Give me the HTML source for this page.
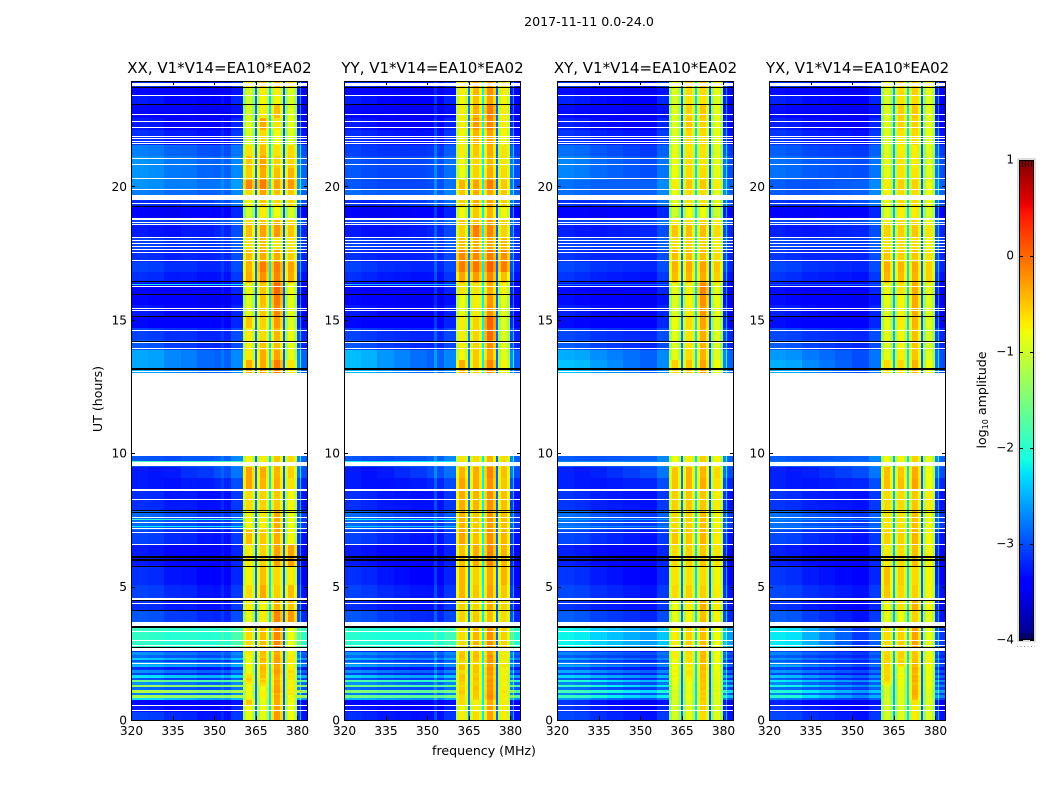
<!DOCTYPE html>
<html>
<head>
<meta charset="utf-8">
<title>2017-11-11 dynamic spectra</title>
<style>
html,body{margin:0;padding:0;background:#fff;}
svg{display:block;font-family:"DejaVu Sans","Liberation Sans",sans-serif;fill:#000;}
</style>
</head>
<body>
<svg id="chart" width="1050" height="800" viewBox="0 0 1050 800" xmlns="http://www.w3.org/2000/svg"></svg>
<script>
// ---- Data (log10 amplitude, hours, MHz) ----
const panelTitles = ["XX, V1*V14=EA10*EA02","YY, V1*V14=EA10*EA02","XY, V1*V14=EA10*EA02","YX, V1*V14=EA10*EA02"];
const xTickLabels = [320,335,350,365,380];
const yTickLabels = [0,5,10,15,20];
const colorbarTickLabels = [1,0,-1,-2,-3,-4];

// time segment edges, hours (bottom up); the 9.88-13.0 gap is a flag below
const timeEdges = [0,.3,.53,.75,.84,.94,1.03,1.12,1.22,1.31,1.41,1.5,1.59,1.69,1.78,1.87,1.97,2.06,2.16,2.25,2.34,2.44,2.53,2.72,3.65,4.1,4.54,5.06,5.77,6.56,7.12,7.87,8.62,9.07,9.48,9.88];
const timeEdgesUpper = [13,13.49,13.87,14.24,14.69,15.14,15.55,15.93,16.38,16.79,17.17,17.62,18.07,18.55,18.81,19.23,19.53,19.87,20.24,20.69,21.14,21.55,22.11,22.56,23.05,23.42,23.69,23.95];

// each row: [background at 320-332, background above 350, band1, band2, band3, band4]
const levelsXX = [
[-3.1,-3.3,-.85,-.85,-.25,-.8],[-3.3,-3.4,-.75,-.8,-.3,-.8],[-3.4,-3.5,-.5,-.85,-.35,-.8],
[-2.3,-2.6,-.7,-.8,-.35,-.75],[-1.3,-1.4,-.8,-.75,-.3,-.8],[-2.8,-2.9,-.85,-.7,-.4,-.65],[-1.2,-1.4,-.8,-.75,-.25,-.7],[-2.9,-3,-.75,-.8,-.3,-.7],[-1.3,-1.5,-.85,-.7,-.3,-.75],[-2.7,-2.9,-.7,-.6,-.35,-.7],[-1.6,-1.8,-.6,-.5,-.3,-.75],[-3,-3.1,-.55,-.6,-.4,-.7],[-2.3,-2.5,-.65,-.45,-.35,-.65],[-3.1,-3.2,-.7,-.5,-.3,-.7],[-2.7,-2.9,-.85,-.45,-.25,-.6],[-3.2,-3.3,-.8,-.4,-.3,-.7],[-2.5,-2.7,-.75,-.45,-.35,-.75],[-2.6,-2.8,-.8,-.5,-.25,-.7],[-3,-3.1,-.85,-.45,-.3,-.65],[-2.4,-2.6,-.8,-.4,-.25,-.7],[-2.9,-3,-.75,-.5,-.3,-.7],[-2.7,-2.9,-.7,-.45,-.35,-.75],[-3.2,-3.3,-.65,-.4,-.25,-.7],
[-2,-2,-.6,-.45,-.15,-.8],
[-3,-3.2,-.85,-.7,-.15,-.25],[-3.2,-3.3,-.7,-.75,-.4,-.5],[-3.1,-3.3,-.6,-.35,-.55,-.45],[-3.2,-3.4,-.75,-.45,-.6,-.7],[-3.3,-3.4,-.7,-.55,-.3,-.3],[-3.1,-3.3,-.45,-.5,-.35,-.75],[-2.9,-3.1,-.75,-.7,-.35,-.8],[-3.2,-3.3,-.6,-.55,-.5,-.75],[-3.3,-3.2,-.3,-.4,-.35,-.65],[-3.3,-3,-.3,-.35,-.4,-.55],[-3,-2.9,-.75,-.7,-.5,-.6],
[-2.6,-2.9,-.35,-.35,-.1,-.65],[-2.6,-2.9,-.7,-.35,-.3,-.85],[-3,-3.2,-.75,-.5,-.45,-.85],[-3.1,-3.2,-.7,-.6,-.4,-.8],[-3.4,-3.4,-.5,-.55,-.25,-.9],[-3.3,-3.4,-.85,-.5,-.15,-.85],[-3.4,-3.5,-.9,-.45,-.1,-.85],[-3.4,-3.4,-.8,-.5,0,-.8],[-3.2,-3.3,-.35,-.2,-.15,-.35],[-3.1,-3.2,-.4,-.1,-.1,-.3],[-3.2,-3.2,-.45,-.35,-.35,-.55],[-3.1,-3.1,-.65,-.45,-.65,-.65],[-3.3,-3.2,-.45,-.3,-.25,-.5],[-3.1,-3,-.6,-.5,-.4,-.6],[-3.5,-3.4,-1,-.7,-.8,-.95],[-3.2,-3,-.75,-.5,-.6,-.6],[-2.8,-2.9,-.6,-.3,-.45,-.5],[-2.7,-2.8,-.15,-.1,-.3,-.25],[-2.7,-2.9,-.55,-.35,-.45,-.4],[-2.7,-2.9,-.5,-.3,-.55,-.55],[-2.8,-3,-.65,-.45,-.65,-.6],[-3.2,-3.3,-.95,-.6,-.8,-.9],[-3.3,-3.4,-.9,-.35,-.65,-.85],[-3.4,-3.5,-.95,-.7,-.45,-.9],[-3.3,-3.4,-1,-.75,-.75,-.95],[-3.4,-3.5,-.95,-.7,-.7,-.9],[-3.2,-3.3,-.7,-.5,-.4,-.55]];

const levelsYY = [
[-3.2,-3.3,-.7,-.6,-.3,-.7],[-3.3,-3.4,-.75,-.7,-.3,-.7],[-3.4,-3.5,-.6,-.7,-.35,-.7],
[-2.5,-2.7,-.6,-.55,-.2,-.7],[-1.6,-1.7,-.6,-.5,-.15,-.7],[-2.8,-2.9,-.55,-.5,-.2,-.7],[-1.5,-1.7,-.5,-.5,-.2,-.65],[-2.9,-3,-.55,-.45,-.25,-.7],[-1.6,-1.8,-.6,-.5,-.2,-.7],[-2.7,-2.9,-.55,-.55,-.25,-.75],[-1.8,-2,-.5,-.5,-.2,-.7],[-3,-3.1,-.5,-.45,-.25,-.7],[-2.4,-2.6,-.45,-.5,-.3,-.7],[-3.1,-3.2,-.55,-.55,-.2,-.75],[-2.7,-2.9,-.6,-.45,-.25,-.7],[-3.2,-3.3,-.45,-.5,-.2,-.7],[-2.6,-2.8,-.45,-.45,-.3,-.65],[-2.7,-2.9,-.6,-.6,-.25,-.7],[-3,-3.1,-.55,-.5,-.2,-.7],[-2.5,-2.7,-.5,-.45,-.25,-.7],[-2.9,-3,-.45,-.4,-.2,-.65],[-2.7,-2.9,-.5,-.45,-.3,-.7],[-3.2,-3.3,-.55,-.45,-.2,-.6],
[-2.05,-2.05,-.6,-.4,-.2,-.55],
[-3,-3.2,-.55,-.5,-.45,-.6],[-3.2,-3.3,-.55,-.55,-.35,-.55],[-3.1,-3.3,-.4,-.5,-.3,-.5],[-3.2,-3.4,-.4,-.55,-.35,-.4],[-3.3,-3.4,-.45,-.35,-.15,-.4],[-3.1,-3.3,-.3,-.45,-.2,-.4],[-2.9,-3.1,-.4,-.5,-.25,-.45],[-3.2,-3.3,-.35,-.4,-.2,-.45],[-3.3,-3.2,-.3,-.35,-.2,-.5],[-3.3,-3,-.4,-.35,-.15,-.45],[-3,-2.9,-.65,-.6,-.4,-.6],
[-2.5,-2.9,-.35,-.5,-.15,-.75],[-2.5,-2.9,-.75,-.5,-.3,-.85],[-3,-3.2,-.7,-.55,-.2,-.85],[-3.1,-3.2,-.7,-.55,0,-.9],[-3.4,-3.4,-.7,-.55,.05,-.9],[-3.3,-3.4,-.8,-.7,-.2,-.85],[-3.4,-3.5,-.8,-.7,-.25,-.85],[-3.4,-3.4,-.65,-.65,-.35,-.75],[-3.2,-3.3,-.3,-.25,-.15,-.45],[-3.1,-3.2,-.1,-.05,.05,-.1],[-3.2,-3.2,-.15,-.15,-.1,-.2],[-3.1,-3.1,-.45,-.35,-.3,-.4],[-3.3,-3.2,-.55,-.1,-.15,-.55],[-3.1,-3,-.5,-.45,-.3,-.55],[-3.5,-3.4,-.75,-.5,-.4,-.75],[-3.2,-3,-.55,-.35,-.3,-.55],[-2.9,-2.9,-.5,-.35,-.3,-.5],[-3,-3,-.4,-.3,-.1,-.5],[-3,-3,-.8,-.55,-.35,-.6],[-3,-3,-.75,-.55,-.4,-.65],[-3.1,-3.1,-.7,-.5,-.35,-.65],[-3.2,-3.3,-.75,-.4,-.3,-.75],[-3.3,-3.4,-.7,-.25,-.15,-.7],[-3.4,-3.5,-.7,-.35,-.1,-.7],[-3.3,-3.4,-.75,-.45,-.3,-.75],[-3.4,-3.5,-.7,-.4,-.2,-.7],[-3.2,-3.3,-.6,-.3,-.25,-.6]];

const levelsXY = [
[-3.1,-3.3,-.95,-.85,-.6,-.9],[-3.2,-3.4,-.95,-.85,-.55,-.9],[-3.2,-3.5,-.95,-.9,-.55,-.9],
[-2.7,-3,-.9,-.8,-.5,-.85],[-2,-2.4,-.95,-.8,-.55,-.9],[-2.8,-3,-.9,-.85,-.5,-.85],[-1.9,-2.3,-.95,-.85,-.55,-.9],[-2.9,-3.1,-.9,-.8,-.45,-.85],[-2,-2.4,-.9,-.85,-.5,-.9],[-2.8,-3,-.85,-.8,-.5,-.85],[-2.1,-2.5,-.85,-.75,-.45,-.85],[-3,-3.2,-.8,-.75,-.5,-.85],[-2.4,-2.7,-.75,-.7,-.45,-.85],[-3.1,-3.2,-.8,-.65,-.45,-.8],[-2.6,-2.9,-.75,-.65,-.5,-.85],[-3.1,-3.3,-.8,-.7,-.4,-.8],[-2.6,-2.9,-.75,-.65,-.45,-.8],[-2.8,-3,-.75,-.7,-.45,-.85],[-3,-3.2,-.8,-.6,-.4,-.8],[-2.6,-2.9,-.75,-.6,-.45,-.8],[-3,-3.1,-.7,-.65,-.4,-.8],[-2.8,-3,-.7,-.6,-.45,-.8],[-3.1,-3.3,-.7,-.6,-.4,-.75],
[-2.25,-2.6,-.7,-.55,-.45,-.8],
[-3,-3.2,-.85,-.75,-.45,-.75],[-3.2,-3.3,-.8,-.7,-.35,-.7],[-3.1,-3.3,-.6,-.55,-.55,-.7],[-3.2,-3.4,-.65,-.65,-.6,-.75],[-3.3,-3.4,-.6,-.55,-.5,-.65],[-3.1,-3.3,-.5,-.5,-.4,-.7],[-2.9,-3.1,-.6,-.55,-.45,-.75],[-3.2,-3.3,-.55,-.5,-.5,-.7],[-3.3,-3.2,-.5,-.4,-.35,-.65],[-3.3,-3,-.5,-.4,-.4,-.6],[-3,-2.9,-.8,-.7,-.55,-.75],
[-2.5,-2.9,-.55,-.5,-.3,-.8],[-2.6,-2.9,-.85,-.6,-.4,-.9],[-3,-3.2,-.9,-.65,-.4,-.95],[-3.1,-3.2,-.85,-.65,-.35,-.9],[-3.4,-3.4,-.8,-.6,-.3,-.9],[-3.3,-3.4,-.9,-.7,-.25,-.85],[-3.4,-3.5,-.9,-.75,-.2,-.85],[-3.4,-3.4,-.85,-.75,-.15,-.85],[-3.2,-3.3,-.45,-.4,-.35,-.55],[-3.1,-3.2,-.4,-.35,-.3,-.5],[-3.2,-3.2,-.45,-.45,-.45,-.6],[-3.1,-3.1,-.6,-.55,-.55,-.7],[-3.3,-3.2,-.5,-.45,-.45,-.6],[-3.1,-3,-.7,-.6,-.55,-.7],[-3.5,-3.4,-1,-.8,-.8,-1],[-3.2,-3,-.85,-.65,-.65,-.85],[-2.9,-2.9,-.8,-.6,-.6,-.85],[-2.9,-2.9,-.7,-.5,-.5,-.7],[-2.8,-3,-.8,-.6,-.6,-.85],[-2.8,-3,-.8,-.6,-.65,-.85],[-2.9,-3.1,-.85,-.65,-.65,-.9],[-3.2,-3.3,-.9,-.6,-.6,-.85],[-3.3,-3.4,-.9,-.5,-.55,-.85],[-3.4,-3.5,-.9,-.55,-.5,-.85],[-3.3,-3.4,-.95,-.65,-.65,-.9],[-3.4,-3.5,-.9,-.6,-.6,-.85],[-3.2,-3.3,-.8,-.5,-.5,-.7]];

const levelsYX = [
[-3.1,-3.3,-.95,-.9,-.7,-.9],[-3.2,-3.4,-.95,-.9,-.7,-.9],[-3.3,-3.5,-.95,-.9,-.65,-.9],
[-2.8,-3.1,-.95,-.9,-.45,-.9],[-2.1,-2.7,-1,-.9,-.4,-.95],[-2.8,-3.1,-.95,-.85,-.35,-.9],[-2.1,-2.6,-1,-.9,-.35,-.9],[-2.9,-3.1,-.95,-.85,-.4,-.85],[-2.2,-2.7,-.9,-.85,-.4,-.85],[-2.8,-3.1,-.7,-.8,-.45,-.8],[-2.3,-2.7,-.6,-.8,-.35,-.85],[-3,-3.2,-.55,-.85,-.4,-.8],[-2.5,-2.9,-.55,-.75,-.35,-.8],[-3.1,-3.3,-.6,-.8,-.45,-.85],[-2.7,-3,-.55,-.85,-.4,-.8],[-3.1,-3.3,-.6,-.8,-.35,-.8],[-2.6,-3,-.55,-.65,-.45,-.75],[-2.8,-3.1,-.55,-.55,-.4,-.75],[-3,-3.2,-.6,-.55,-.45,-.7],[-2.7,-3,-.55,-.6,-.45,-.75],[-3,-3.2,-.55,-.55,-.5,-.75],[-2.8,-3.1,-.6,-.55,-.5,-.8],[-3.1,-3.3,-.6,-.6,-.5,-.8],
[-2.3,-3.1,-.6,-.55,-.3,-.85],
[-3,-3.3,-.85,-.8,-.55,-.85],[-3.2,-3.4,-.8,-.65,-.35,-.75],[-3.1,-3.3,-.5,-.6,-.55,-.75],[-3.2,-3.4,-.45,-.55,-.6,-.75],[-3.3,-3.4,-.7,-.6,-.45,-.75],[-3.1,-3.3,-.55,-.55,-.4,-.75],[-2.9,-3.1,-.65,-.65,-.45,-.8],[-3.2,-3.3,-.6,-.6,-.5,-.7],[-3.3,-3.2,-.45,-.45,-.3,-.8],[-3.3,-3,-.45,-.5,-.35,-.8],[-3,-2.9,-.8,-.75,-.55,-.85],
[-2.6,-3,-.6,-.6,-.4,-.8],[-2.7,-3,-.85,-.7,-.5,-.9],[-3,-3.2,-.9,-.75,-.5,-.95],[-3.1,-3.2,-.85,-.75,-.45,-.95],[-3.4,-3.4,-.85,-.7,-.4,-.9],[-3.3,-3.4,-.9,-.75,-.35,-.9],[-3.4,-3.5,-.85,-.75,-.35,-.9],[-3.4,-3.4,-.8,-.65,-.35,-.85],[-3.2,-3.3,-.4,-.45,-.4,-.55],[-3.1,-3.2,-.35,-.4,-.35,-.55],[-3.2,-3.2,-.5,-.55,-.5,-.65],[-3.1,-3.1,-.65,-.6,-.6,-.75],[-3.3,-3.2,-.55,-.55,-.5,-.65],[-3.1,-3,-.7,-.6,-.6,-.75],[-3.5,-3.4,-.9,-.7,-.7,-.95],[-3.2,-3,-.8,-.6,-.6,-.8],[-3,-2.9,-.75,-.6,-.6,-.8],[-3,-2.9,-.7,-.55,-.55,-.8],[-2.9,-3,-.85,-.65,-.65,-.9],[-2.9,-3,-.85,-.65,-.7,-.9],[-3,-3.1,-.9,-.7,-.7,-.9],[-3.2,-3.3,-.9,-.65,-.6,-.85],[-3.3,-3.4,-.9,-.55,-.55,-.85],[-3.4,-3.5,-.9,-.55,-.5,-.85],[-3.3,-3.4,-.95,-.65,-.6,-.9],[-3.4,-3.5,-.9,-.6,-.55,-.85],[-3.2,-3.3,-.8,-.5,-.5,-.7]];

const panelLevels = [levelsXX, levelsYY, levelsXY, levelsYX];

// frequency structure, MHz
const backgroundEdges = [320,326,332,338,344,350,352.5,353.5,356,360.4];
const backgroundOffsetXX = [.05,.02,-.03,0,-.03,0,.12,0,.2];
const backgroundOffsetYY = [.05,0,-.03,-.03,-.03,0,.3,0,.18];
const backgroundOffsetXY = [.08,.04,0,0,0,0,0,0,.2];
const backgroundOffsetYX = [.08,.04,0,0,0,0,0,0,.2];
const panelBackgroundOffsets = [backgroundOffsetXX, backgroundOffsetYY, backgroundOffsetXY, backgroundOffsetYX];
// share of the right-hand background level in each background column
const backgroundRightShare = [0,0,.25,.5,.75,1,1,1,1];

const bandEdges = [[360.4,364.8],[365.7,369.8],[370.5,375],[375.6,380]];
const bandEdgeWidth = 1;
const bandEdgeDrop = [-.42,0,-.36];

const gapEdges = [[364.8,365.7],[369.8,370.5],[375,375.6]];
const gapLevelXX = [-2.85,-2.3,-2.95];
const gapLevelYY = [-2.75,-2.2,-2.9];
const gapLevelXY = [-2.8,-2.3,-2.9];
const gapLevelYX = [-2.5,-2.3,-2.9];
const panelGapLevels = [gapLevelXX, gapLevelYY, gapLevelXY, gapLevelYX];

const postBandEdges = [380,381,381.5,383.8];
const postBandOffset = [.2,.8,0];

// flagged rows: [centre hour, duration hours]
const whiteFlags = [[23.81,.13],[23.41,.04],[22.69,.04],[22.43,.04],[22.21,.04],[21.87,.04],[21.78,.04],[21.68,.04],[21.61,.04],[21.05,.04],[20.82,.04],[20.3,.04],[19.88,.04],[19.59,.17],[19.36,.04],[18.78,.075],[18.65,.04],[18.57,.04],[18.07,.04],[17.97,.04],[17.86,.04],[17.75,.04],[17.63,.04],[17.52,.04],[17.22,.04],[16.25,.04],[15.42,.04],[15.35,.04],[14.6,.04],[14.15,.04],[13.92,.04],[13.06,.04],[11.44,3.12],[9.65,.04],[9.57,.09],[8.61,.06],[8.26,.04],[7.59,.04],[7.4,.04],[7.18,.04],[7.03,.04],[6.58,.04],[4.54,.06],[4.37,.04],[3.59,.13],[3.32,.04],[2.98,.04],[2.79,.04],[2.64,.11],[2.12,.04],[.56,.04],[.36,.04]];
const blackFlags = [[23.71,.04],[23.07,.04],[19.25,.04],[16.44,.04],[15.95,.04],[15.12,.04],[14.19,.04],[13.16,.075],[7.85,.04],[7.78,.04],[6.1,.06],[5.99,.06],[5.75,.04],[4.48,.04],[4.1,.04],[3.49,.075],[2.72,.04]];
// rows with interference in the background: [hour, level in XX, YY, XY, YX]
const interferenceRows = [[16.33,-2.2,-2.4,-2.8,-2.9],[9.69,-1.9,-2.2,-2.7,-2.8],[7.55,-2,-2.2,-2.6,-2.7],[7.29,-2.2,-2.4,-2.7,-2.8]];

// ---- Axis functions ----
const SVGNS = "http://www.w3.org/2000/svg";
const chart = document.getElementById("chart");
const panelLeft = [131,344,557,769];
const PLOT_TOP = 81, PLOT_BOTTOM = 720, PLOT_WIDTH = 177;
const xScale = (p, f) => panelLeft[p] + (f - 320) * 2.767;
const yScale = h => PLOT_BOTTOM - h * 26.68;
const CB_X = 1019, CB_W = 15, CB_TOP = 160, CB_BOTTOM = 640;
const cbScale = v => CB_BOTTOM - (v + 4) / 5 * (CB_BOTTOM - CB_TOP);

function lerpStops(stops, t) {
  for (let i = 1; i < stops.length; i++) {
    if (t <= stops[i][0]) {
      const a = stops[i-1], b = stops[i];
      return a[1] + (b[1] - a[1]) * (t - a[0]) / (b[0] - a[0]);
    }
  }
  return stops[stops.length-1][1];
}
const jetR = [[0,0],[.35,0],[.66,1],[.89,1],[1,.5]];
const jetG = [[0,0],[.125,0],[.375,1],[.64,1],[.91,0],[1,0]];
const jetB = [[0,.5],[.11,1],[.34,1],[.65,0],[1,0]];
function jet(v) {
  const t = Math.max(0, Math.min(1, (v + 4) / 5));
  const c = s => Math.round(lerpStops(s, t) * 255);
  return "rgb(" + c(jetR) + "," + c(jetG) + "," + c(jetB) + ")";
}
function make(tag, attrs, parent) {
  const el = document.createElementNS(SVGNS, tag);
  for (const k in attrs) el.setAttribute(k, attrs[k]);
  (parent || chart).appendChild(el);
  return el;
}

function drawCell(group, p, f0, f1, yTop, yBot, level) {
  const x0 = Math.round(xScale(p, f0)), x1 = Math.round(xScale(p, f1));
  const cell = make("rect", {x:x0, y:yTop, width:Math.max(1, x1-x0), height:yBot-yTop, fill:jet(level)}, group);
  
  
}

function drawHeatmap(p) {
  const group = make("g", {"shape-rendering":"crispEdges"});
  
  
  const rows = panelLevels[p];
  const spans = [];
  for (let i = 0; i + 1 < timeEdges.length; i++) spans.push([timeEdges[i], timeEdges[i+1]]);
  for (let i = 0; i + 1 < timeEdgesUpper.length; i++) spans.push([timeEdgesUpper[i], timeEdgesUpper[i+1]]);
  spans.forEach((span, r) => {
    const row = rows[r];
    const yBot = Math.round(yScale(span[0])), yTop = Math.round(yScale(span[1]));
    if (yBot <= yTop) return;
    for (let c = 0; c + 1 < backgroundEdges.length; c++) {
      const share = backgroundRightShare[c];
      const base = row[0] * (1 - share) + row[1] * share;
      drawCell(group, p, backgroundEdges[c], backgroundEdges[c+1], yTop, yBot, base + panelBackgroundOffsets[p][c]);
    }
    bandEdges.forEach((band, b) => {
      const cuts = [band[0], band[0]+bandEdgeWidth, band[1]-bandEdgeWidth, band[1]];
      for (let s = 0; s < 3; s++) drawCell(group, p, cuts[s], cuts[s+1], yTop, yBot, row[2+b] + bandEdgeDrop[s]);
    });
    gapEdges.forEach((gap, g) => drawCell(group, p, gap[0], gap[1], yTop, yBot, panelGapLevels[p][g]));
    for (let c = 0; c + 1 < postBandEdges.length; c++) {
      drawCell(group, p, postBandEdges[c], postBandEdges[c+1], yTop, yBot, row[1] + postBandOffset[c]);
    }
  });
  interferenceRows.forEach(rowData => {
    const yc = Math.round(yScale(rowData[0]));
    drawCell(group, p, 320, 360.4, yc, yc+1, rowData[p+1]);
  });
  const flagSets = [[whiteFlags,"#fff","flagged-row-white"],[blackFlags,"#000","flagged-row-black"]];
  flagSets.forEach(set => {
    set[0].forEach(flag => {
      const yTop = Math.round(yScale(flag[0] + flag[1]/2));
      const yBot = Math.max(yTop + 1, Math.round(yScale(flag[0] - flag[1]/2)));
      const line = make("rect", {x:panelLeft[p], y:yTop, width:PLOT_WIDTH, height:yBot-yTop, fill:set[1]}, group);
      
      
    });
  });
}

function drawAxes(p) {
  const left = panelLeft[p];
  const group = make("g", {});
  
  
  const frame = make("rect", {x:left+.5, y:PLOT_TOP+.5, width:PLOT_WIDTH-1, height:PLOT_BOTTOM-PLOT_TOP, fill:"none", stroke:"#000", "stroke-width":1}, group);
  
  
  xTickLabels.forEach(v => {
    const x = Math.round(xScale(p, v)) + .5;
    const bottomTick = make("line", {x1:x, x2:x, y1:PLOT_BOTTOM, y2:PLOT_BOTTOM-4, stroke:"#000"}, group);
    
    
    const topTick = make("line", {x1:x, x2:x, y1:PLOT_TOP, y2:PLOT_TOP+4, stroke:"#000"}, group);
    
    
    const label = make("text", {x:xScale(p, v)+.5, y:735, "font-size":"12.2", "text-anchor":"middle"}, group);
    
    
    label.textContent = v;
  });
  yTickLabels.forEach(v => {
    const y = Math.round(yScale(v)) + .5;
    const leftTick = make("line", {x1:left, x2:left+4, y1:y, y2:y, stroke:"#000"}, group);
    
    
    const rightTick = make("line", {x1:left+PLOT_WIDTH, x2:left+PLOT_WIDTH-4, y1:y, y2:y, stroke:"#000"}, group);
    
    
    const label = make("text", {x:left-4, y:yScale(v)+4.5, "font-size":"12.2", "text-anchor":"end"}, group);
    
    
    label.textContent = v;
  });
  const title = make("text", {x:left+PLOT_WIDTH/2, y:73, "font-size":"15", "text-anchor":"middle"}, group);
  
  
  title.textContent = panelTitles[p];
}

function drawColorbar() {
  const group = make("g", {});
  
  
  const halo = make("rect", {x:CB_X-1, y:CB_TOP-1, width:CB_W+2, height:CB_BOTTOM-CB_TOP+2, fill:"none", stroke:"#bbb", "stroke-width":1}, group);
  
  
  const ramp = make("g", {"shape-rendering":"crispEdges"}, group);
  
  
  for (let y = CB_TOP; y < CB_BOTTOM; y += 2) {
    const v = -4 + 5 * (CB_BOTTOM - y - 1) / (CB_BOTTOM - CB_TOP);
    const swatch = make("rect", {x:CB_X, y:y, width:CB_W, height:2, fill:jet(v)}, ramp);
    
    
  }
  const outline = make("rect", {x:CB_X+.5, y:CB_TOP+.5, width:CB_W-1, height:CB_BOTTOM-CB_TOP-1, fill:"none", stroke:"#000", "stroke-width":1}, group);
  
  
  colorbarTickLabels.forEach(v => {
    const y = Math.round(cbScale(v));
    const tickL = make("line", {x1:CB_X, x2:CB_X+4, y1:y+.5, y2:y+.5, stroke:"#000"}, group);
    
    
    const tickR = make("line", {x1:CB_X+CB_W, x2:CB_X+CB_W-4, y1:y+.5, y2:y+.5, stroke:"#000"}, group);
    
    
    const label = make("text", {x:1014, y:cbScale(v)+3.5, "font-size":"12", "text-anchor":"end"}, group);
    
    
    label.textContent = v < 0 ? "\u2212" + Math.abs(v) : String(v);
  });
  [1022,1025,1028,1031].forEach(x => {
    const topMinor = make("line", {x1:x+.5, x2:x+.5, y1:CB_TOP, y2:CB_TOP+7, stroke:"#000", "stroke-opacity":.7}, group);
    
    
    const bottomMinor = make("line", {x1:x+.5, x2:x+.5, y1:CB_BOTTOM-7, y2:CB_BOTTOM, stroke:"#000", "stroke-opacity":.7}, group);
    
    
  });
  const dots = make("line", {x1:1017, x2:1035, y1:646.5, y2:646.5, stroke:"#999", "stroke-width":1, "stroke-dasharray":"1 2.5"}, group);
  
  
}

panelTitles.forEach((t, p) => { drawHeatmap(p); drawAxes(p); });
drawColorbar();

const figTitle = make("text", {x:589, y:26, "font-size":"12.6", "text-anchor":"middle"});


figTitle.textContent = "2017-11-11 0.0-24.0";

const xTitle = make("text", {x:484, y:755, "font-size":"12.6", "text-anchor":"middle"});


xTitle.textContent = "frequency (MHz)";

const yTitle = make("text", {x:102, y:399, "font-size":"12.6", "text-anchor":"middle", transform:"rotate(-90 102 399)"});


yTitle.textContent = "UT (hours)";

const cbTitle = make("text", {x:986, y:400, "font-size":"12.6", "text-anchor":"middle", transform:"rotate(-90 986 400)"});


const cbTitleA = make("tspan", {}, cbTitle);
cbTitleA.textContent = "log";
const cbTitleB = make("tspan", {"font-size":"8", dy:"2"}, cbTitle);
cbTitleB.textContent = "10";
const cbTitleC = make("tspan", {dy:"-2"}, cbTitle);
cbTitleC.textContent = " amplitude";
</script>
</body>
</html>
